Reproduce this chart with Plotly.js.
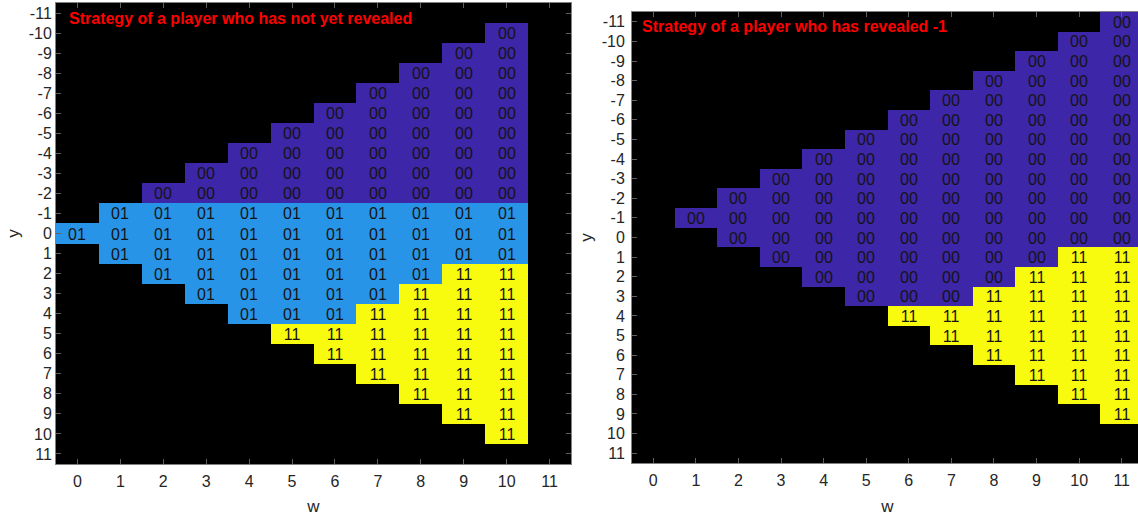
<!DOCTYPE html>
<html><head><meta charset="utf-8">
<script src="https://cdn.plot.ly/plotly-3.0.1.min.js"></script>
<style>html,body{margin:0;padding:0;overflow:hidden;background:#fff}#chart{width:1150px;height:516px}</style>
</head><body><div id="chart"></div>
<script>
const _ = null;
const wValues = [0,1,2,3,4,5,6,7,8,9,10,11];
const yValues = [-11,-10,-9,-8,-7,-6,-5,-4,-3,-2,-1,0,1,2,3,4,5,6,7,8,9,10,11];
const wTickLabels = ["0","1","2","3","4","5","6","7","8","9","10","11"];
const yTickLabels = ["-11","-10","-9","-8","-7","-6","-5","-4","-3","-2","-1","0","1","2","3","4","5","6","7","8","9","10","11"];
const codeLevels = {"00":0, "01":1, "11":2};
const leftTitle = "Strategy of a player who has not yet revealed";
const rightTitle = "Strategy of a player who has revealed -1";

// rows: y = -11 ... 11 ; columns: w = 0 ... 11
const leftCodes = [
 [_,_,_,_,_,_,_,_,_,_,_,_],
 [_,_,_,_,_,_,_,_,_,_,"00",_],
 [_,_,_,_,_,_,_,_,_,"00","00",_],
 [_,_,_,_,_,_,_,_,"00","00","00",_],
 [_,_,_,_,_,_,_,"00","00","00","00",_],
 [_,_,_,_,_,_,"00","00","00","00","00",_],
 [_,_,_,_,_,"00","00","00","00","00","00",_],
 [_,_,_,_,"00","00","00","00","00","00","00",_],
 [_,_,_,"00","00","00","00","00","00","00","00",_],
 [_,_,"00","00","00","00","00","00","00","00","00",_],
 [_,"01","01","01","01","01","01","01","01","01","01",_],
 ["01","01","01","01","01","01","01","01","01","01","01",_],
 [_,"01","01","01","01","01","01","01","01","01","01",_],
 [_,_,"01","01","01","01","01","01","01","11","11",_],
 [_,_,_,"01","01","01","01","01","11","11","11",_],
 [_,_,_,_,"01","01","01","11","11","11","11",_],
 [_,_,_,_,_,"11","11","11","11","11","11",_],
 [_,_,_,_,_,_,"11","11","11","11","11",_],
 [_,_,_,_,_,_,_,"11","11","11","11",_],
 [_,_,_,_,_,_,_,_,"11","11","11",_],
 [_,_,_,_,_,_,_,_,_,"11","11",_],
 [_,_,_,_,_,_,_,_,_,_,"11",_],
 [_,_,_,_,_,_,_,_,_,_,_,_]
];

const rightCodes = [
 [_,_,_,_,_,_,_,_,_,_,_,"00"],
 [_,_,_,_,_,_,_,_,_,_,"00","00"],
 [_,_,_,_,_,_,_,_,_,"00","00","00"],
 [_,_,_,_,_,_,_,_,"00","00","00","00"],
 [_,_,_,_,_,_,_,"00","00","00","00","00"],
 [_,_,_,_,_,_,"00","00","00","00","00","00"],
 [_,_,_,_,_,"00","00","00","00","00","00","00"],
 [_,_,_,_,"00","00","00","00","00","00","00","00"],
 [_,_,_,"00","00","00","00","00","00","00","00","00"],
 [_,_,"00","00","00","00","00","00","00","00","00","00"],
 [_,"00","00","00","00","00","00","00","00","00","00","00"],
 [_,_,"00","00","00","00","00","00","00","00","00","00"],
 [_,_,_,"00","00","00","00","00","00","00","11","11"],
 [_,_,_,_,"00","00","00","00","00","11","11","11"],
 [_,_,_,_,_,"00","00","00","11","11","11","11"],
 [_,_,_,_,_,_,"11","11","11","11","11","11"],
 [_,_,_,_,_,_,_,"11","11","11","11","11"],
 [_,_,_,_,_,_,_,_,"11","11","11","11"],
 [_,_,_,_,_,_,_,_,_,"11","11","11"],
 [_,_,_,_,_,_,_,_,_,_,"11","11"],
 [_,_,_,_,_,_,_,_,_,_,_,"11"],
 [_,_,_,_,_,_,_,_,_,_,_,_],
 [_,_,_,_,_,_,_,_,_,_,_,_]
];

const FONT = "Liberation Sans, Arial, Helvetica, sans-serif";
const colorscale = [[0,'#3E26A8'],[0.5,'#2894E8'],[1,'#F9FB0E']];

function heat(codes, xa, ya){
  return {
    type:'heatmap', x:wValues, y:yValues,
    z: codes.map(r => r.map(c => c === null ? null : codeLevels[c])),
    text: codes.map(r => r.map(c => c === null ? '' : c)),
    texttemplate:'%{text}',
    textfont:{family:FONT, size:16, color:'#141414'},
    colorscale:colorscale, zmin:0, zmax:2, showscale:false,
    hoverinfo:'skip', xaxis:xa, yaxis:ya
  };
}

function xax(domain, anchor){
  return {domain:domain, anchor:anchor, range:[-0.5,11.5], tickvals:wValues, ticktext:wTickLabels,
    ticks:'inside', ticklen:5, tickcolor:'#606060', showline:true, linecolor:'#808080',
    mirror:'ticks', showgrid:false, zeroline:false, fixedrange:true, ticklabelstandoff:3,
    tickfont:{family:FONT, size:16, color:'#262626'},
    title:{text:'w', font:{family:FONT, size:17, color:'#262626'}, standoff:13}};
}
function yax(domain, anchor, standoff){
  return {domain:domain, anchor:anchor, range:[11.5,-11.5], tickvals:yValues, ticktext:yTickLabels,
    ticks:'inside', ticklen:5, tickcolor:'#606060', showline:true, linecolor:'#808080',
    mirror:'ticks', showgrid:false, zeroline:false, fixedrange:true, ticklabelstandoff:standoff,
    tickfont:{family:FONT, size:16, color:'#262626'},
    title:{text:'y', font:{family:FONT, size:17, color:'#262626'}, standoff:4}};
}

const W = 1150, H = 516;
const mL = 56, mR = 7, mT = 3, mB = 52;
const pw = W - mL - mR, ph = H - mT - mB;

const layout = {
  width:W, height:H,
  margin:{l:mL, r:mR, t:mT, b:mB, pad:0},
  paper_bgcolor:'#ffffff', plot_bgcolor:'#000000',
  showlegend:false,
  xaxis: xax([0, (571-mL)/pw], 'y'),
  yaxis: yax([0, 1], 'x', 0),
  xaxis2: xax([(632-mL)/pw, 1], 'y2'),
  yaxis2: yax([(H-mB-463)/ph, 1-(12-mT)/ph], 'x2', 3),
  annotations:[
    {text:leftTitle, xref:'x domain', yref:'y domain', x:11/515, y:1-15.5/461,
     xanchor:'left', yanchor:'middle', showarrow:false,
     font:{family:FONT, size:16, color:'#FF0000', weight:'bold'}},
    {text:rightTitle, xref:'x2 domain', yref:'y2 domain', x:8/511, y:1-14.7/451,
     xanchor:'left', yanchor:'middle', showarrow:false,
     font:{family:FONT, size:16, color:'#FF0000', weight:'bold'}}
  ]
};

Plotly.newPlot('chart', [heat(leftCodes,'x','y'), heat(rightCodes,'x2','y2')], layout, {displayModeBar:false, staticPlot:true});
</script></body></html>
